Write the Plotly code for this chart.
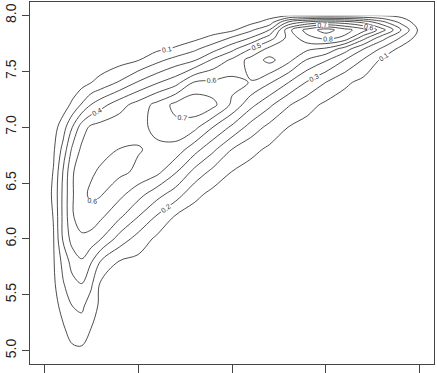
import plotly.graph_objects as go

# grid x positions (data units) and y positions
x_vals = [1.0, 1.1, 1.2, 1.3, 1.4, 1.5, 1.6, 1.8, 2.0, 2.2, 2.4, 2.6, 2.8, 3.0,
          3.2, 3.4, 3.6, 3.8, 4.0, 4.2, 4.4, 4.6, 4.8, 5.0]
y_vals = [5.0, 5.2, 5.4, 5.6, 5.8, 6.0, 6.2, 6.4, 6.6, 6.8, 7.0, 7.2, 7.4, 7.6,
          7.7, 7.8, 7.87, 7.94, 8.0]

# estimated density values, one list per grid row (bottom to top)
dens_y500 = [0.01, 0.03, 0.06, 0.085, 0.085, 0.06, 0.035, 0.015, 0.01, 0.01, 0.005, 0, 0, 0, 0, 0, 0, 0, 0, 0, 0, 0, 0, 0]
dens_y520 = [0.02, 0.05, 0.09, 0.135, 0.155, 0.10, 0.06, 0.025, 0.015, 0.01, 0.01, 0.005, 0, 0, 0, 0, 0, 0, 0, 0, 0, 0, 0, 0]
dens_y540 = [0.03, 0.07, 0.125, 0.20, 0.22, 0.15, 0.08, 0.04, 0.025, 0.02, 0.015, 0.01, 0.005, 0, 0, 0, 0, 0, 0, 0, 0, 0, 0, 0]
dens_y560 = [0.03, 0.08, 0.19, 0.27, 0.30, 0.22, 0.09, 0.05, 0.035, 0.03, 0.02, 0.015, 0.01, 0.005, 0, 0, 0, 0, 0, 0, 0, 0, 0, 0]
dens_y580 = [0.03, 0.09, 0.23, 0.34, 0.39, 0.31, 0.20, 0.098, 0.075, 0.05, 0.035, 0.025, 0.015, 0.01, 0.005, 0, 0, 0, 0, 0, 0, 0, 0, 0]
dens_y600 = [0.03, 0.095, 0.31, 0.44, 0.48, 0.46, 0.405, 0.26, 0.16, 0.08, 0.05, 0.035, 0.025, 0.015, 0.01, 0.005, 0, 0, 0, 0, 0, 0, 0, 0]
dens_y620 = [0.03, 0.105, 0.32, 0.49, 0.55, 0.56, 0.52, 0.42, 0.302, 0.19, 0.09, 0.05, 0.035, 0.025, 0.015, 0.01, 0.005, 0, 0, 0, 0, 0, 0, 0]
dens_y640 = [0.03, 0.12, 0.32, 0.49, 0.57, 0.62, 0.61, 0.53, 0.44, 0.34, 0.25, 0.13, 0.07, 0.045, 0.03, 0.02, 0.01, 0.005, 0, 0, 0, 0, 0, 0]
dens_y660 = [0.03, 0.105, 0.302, 0.49, 0.55, 0.585, 0.615, 0.625, 0.58, 0.53, 0.41, 0.27, 0.17, 0.098, 0.06, 0.04, 0.025, 0.015, 0.01, 0.005, 0, 0, 0, 0]
dens_y680 = [0.03, 0.085, 0.23, 0.42, 0.52, 0.55, 0.565, 0.602, 0.608, 0.575, 0.56, 0.44, 0.32, 0.198, 0.13, 0.08, 0.05, 0.03, 0.02, 0.01, 0.005, 0, 0, 0]
dens_y700 = [0.02, 0.06, 0.15, 0.298, 0.45, 0.52, 0.54, 0.56, 0.565, 0.63, 0.67, 0.63, 0.498, 0.38, 0.26, 0.17, 0.099, 0.065, 0.04, 0.025, 0.015, 0.01, 0.005, 0.005]
dens_y720 = [0.01, 0.02, 0.05, 0.12, 0.21, 0.302, 0.36, 0.46, 0.54, 0.63, 0.73, 0.78, 0.73, 0.58, 0.43, 0.32, 0.21, 0.135, 0.08, 0.05, 0.03, 0.02, 0.01, 0.005]
dens_y740 = [0, 0.005, 0.01, 0.03, 0.06, 0.098, 0.13, 0.21, 0.31, 0.39, 0.46, 0.61, 0.62, 0.63, 0.595, 0.51, 0.402, 0.29, 0.198, 0.12, 0.07, 0.04, 0.02, 0.01]
dens_y760 = [0, 0, 0.005, 0.01, 0.02, 0.03, 0.04, 0.06, 0.095, 0.17, 0.24, 0.29, 0.42, 0.52, 0.64, 0.73, 0.63, 0.49, 0.41, 0.298, 0.19, 0.08, 0.03, 0.01]
dens_y770 = [0, 0, 0, 0.005, 0.01, 0.015, 0.02, 0.035, 0.055, 0.08, 0.11, 0.18, 0.26, 0.37, 0.502, 0.63, 0.63, 0.62, 0.58, 0.45, 0.302, 0.18, 0.07, 0.02]
dens_y780 = [0, 0, 0, 0, 0.005, 0.005, 0.01, 0.015, 0.025, 0.04, 0.06, 0.07, 0.13, 0.21, 0.302, 0.45, 0.63, 0.77, 0.83, 0.78, 0.54, 0.34, 0.19, 0.05]
dens_y787 = [0, 0, 0, 0, 0, 0, 0.005, 0.01, 0.015, 0.02, 0.025, 0.03, 0.05, 0.08, 0.18, 0.302, 0.67, 0.84, 0.95, 0.84, 0.74, 0.54, 0.298, 0.07]
dens_y794 = [0, 0, 0, 0, 0, 0, 0, 0.005, 0.01, 0.01, 0.015, 0.02, 0.02, 0.04, 0.07, 0.14, 0.41, 0.52, 0.57, 0.55, 0.47, 0.33, 0.17, 0.04]
dens_y800 = [0, 0, 0, 0, 0, 0, 0, 0, 0.005, 0.005, 0.01, 0.01, 0.015, 0.025, 0.04, 0.06, 0.085, 0.09, 0.09, 0.09, 0.09, 0.09, 0.07, 0.03]

z_grid = [dens_y500, dens_y520, dens_y540, dens_y560, dens_y580, dens_y600,
          dens_y620, dens_y640, dens_y660, dens_y680, dens_y700, dens_y720,
          dens_y740, dens_y760, dens_y770, dens_y780, dens_y787, dens_y794,
          dens_y800]

x_ticks = [1, 2, 3, 4, 5]
y_ticks = [5.0, 5.5, 6.0, 6.5, 7.0, 7.5, 8.0]
y_tick_text = ["5.0", "5.5", "6.0", "6.5", "7.0", "7.5", "8.0"]

fig = go.Figure(go.Contour(
    x=x_vals, y=y_vals, z=z_grid,
    contours=dict(coloring="none", start=0.1, end=0.9, size=0.1,
                  showlabels=True, labelformat=".1f",
                  labelfont=dict(size=7, color="#333", family="Liberation Sans, Arial")),
    colorscale=[[0, "#222"], [1, "#222"]],
    line=dict(color="#222", width=0.8, smoothing=1),
    showscale=False, hoverinfo="skip",
))

fig.update_layout(
    width=437, height=373,
    margin=dict(l=30, r=3, t=2, b=9, autoexpand=False),
    paper_bgcolor="white", plot_bgcolor="white",
    font=dict(family="Liberation Sans, Arial, sans-serif", color="#222"),
    showlegend=False,
)
fig.update_xaxes(range=[0.85, 5.15], tickvals=x_ticks, showticklabels=False,
                 ticks="outside", ticklen=8, tickcolor="#444", tickwidth=1,
                 showline=True, linecolor="#444", linewidth=1, mirror=True,
                 showgrid=False, zeroline=False, automargin=False)
fig.update_yaxes(range=[4.88, 8.12], tickvals=y_ticks, ticktext=y_tick_text,
                 tickangle=-90, tickfont=dict(size=14, color="#222"),
                 ticks="outside", ticklen=7, tickcolor="#444", tickwidth=1,
                 showline=True, linecolor="#444", linewidth=1, mirror=True,
                 showgrid=False, zeroline=False, automargin=False)

fig.write_html("out.html", config={"displayModeBar": False},
               post_script="document.body.style.margin='0px';document.body.style.overflow='hidden';")
